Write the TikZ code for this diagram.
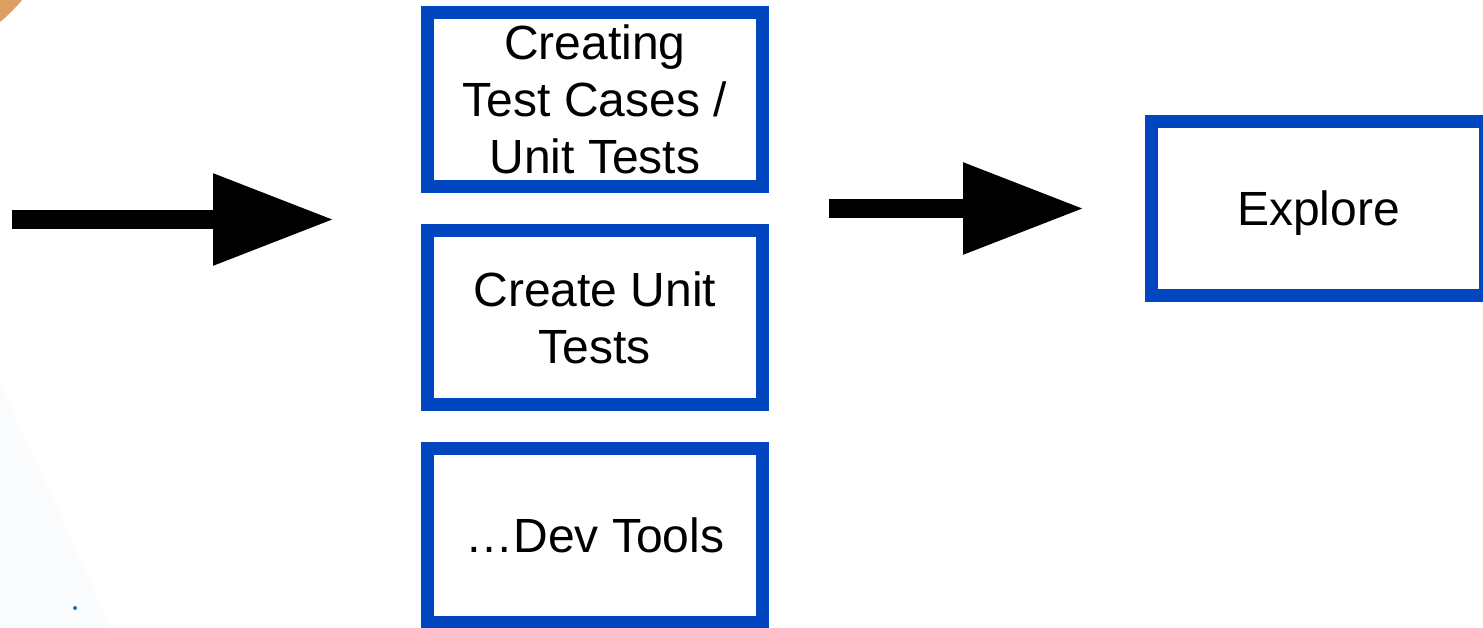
\documentclass[tikz,border=0pt]{standalone}
\usepackage{fontspec}
\setmainfont{Liberation Sans}
\usetikzlibrary{arrows.meta}
\definecolor{boxblue}{RGB}{1,70,190}
\definecolor{deco}{RGB}{221,160,98}
\definecolor{faint}{RGB}{249,251,252}
\definecolor{dotblue}{RGB}{30,110,190}
\tikzset{
  stepbox/.style={draw=boxblue, line width=13pt, fill=white, inner sep=0pt, align=center,
    minimum width=334.5pt, minimum height=174pt,
    font=\fontsize{48}{57}\selectfont},
  blockarrow/.style={line width=19pt, draw=black, -{Triangle[length=121pt,width=87pt]}}
}
\begin{document}
\begin{tikzpicture}[x=1pt,y=-1pt]
\clip (0,0) rectangle (1483,627);
\fill[white] (0,0) rectangle (1483,627);
% background decorations
\fill[faint] (0,385) -- (40,470) -- (80,560) -- (110,627) -- (0,627) -- cycle;
\fill[deco] (-120,-120) circle (186);
\fill[dotblue] (75,608) circle (2);
% boxes
\node[stepbox] (b1) at (594.75,99.75) {Creating\\Test Cases /\\Unit Tests};
\node[stepbox] (b2) at (594.75,317.5) {Create Unit\\Tests};
\node[stepbox] (b3) at (594.75,535.5) {\ldots Dev Tools};
\node[stepbox, minimum width=334pt, text depth=0pt] (ex) at (1318.5,208.5) {Explore};
% arrows
\coordinate (inS) at (12,219.5);
\coordinate (inE) at (334,219.5);
\coordinate (outS) at (829,208.5);
\coordinate (outE) at (1084,208.5);
\draw[blockarrow] (inS) -- (inE);
\draw[blockarrow] (outS) -- (outE);
\end{tikzpicture}
\end{document}
